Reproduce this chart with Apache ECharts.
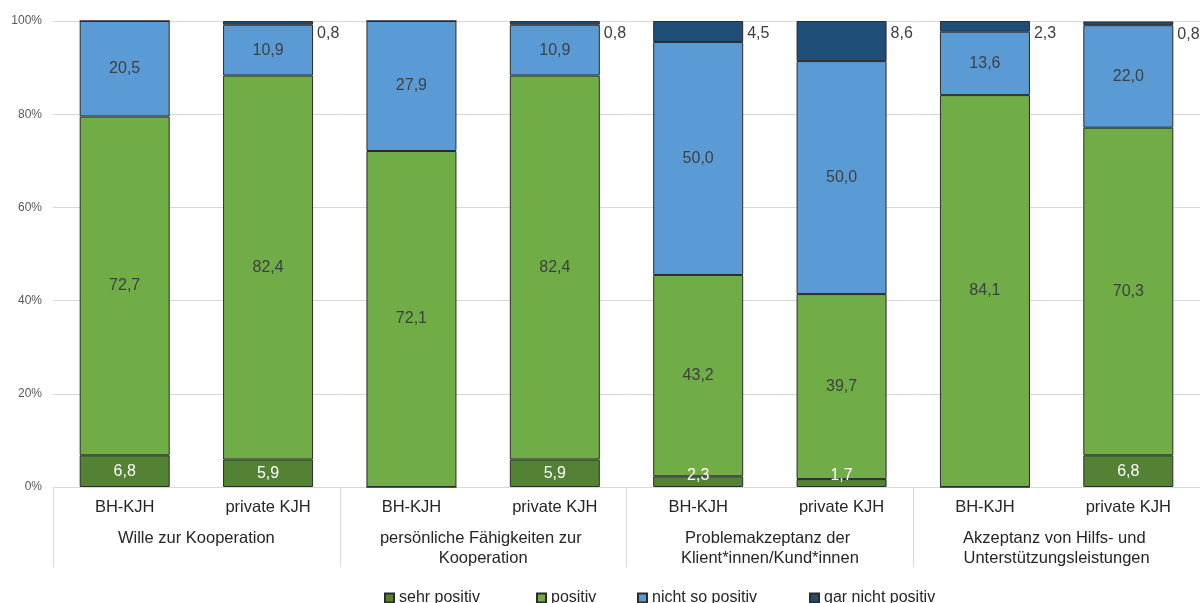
<!DOCTYPE html>
<html>
<head>
<meta charset="utf-8">
<script src="https://cdn.jsdelivr.net/npm/echarts@6/dist/echarts.min.js"></script>
<style>
html,body{margin:0;padding:0;background:#fff;}
#chart{width:1200px;height:603px;}
</style>
</head>
<body>
<div id="chart"></div>
<script>
const barLabels = ["BH-KJH","private KJH","BH-KJH","private KJH","BH-KJH","private KJH","BH-KJH","private KJH"];
const groupLabels = ["Wille zur Kooperation","persönliche Fähigkeiten zur Kooperation","Problemakzeptanz der Klient*innen/Kund*innen","Akzeptanz von Hilfs- und Unterstützungsleistungen"];
const seriesNames = ["sehr positiv","positiv","nicht so positiv","gar nicht positiv"];
const yTicks = [0,20,40,60,80,100];

const sehrPositiv    = [6.8, 5.9, 0,    5.9, 2.3, 1.7, 0,    6.8];
const positiv        = [72.7,82.4,72.1, 82.4,43.2,39.7,84.1, 70.3];
const nichtSoPositiv = [20.5,10.9,27.9, 10.9,50.0,50.0,13.6, 22.0];
const garNichtPositiv= [0,   0.8, 0,    0.8, 4.5, 8.6, 2.3,  0.8];

const FONT = '"Liberation Sans", Arial, sans-serif';
const fmt = p => (p.value ? p.value.toFixed(1).replace('.', ',') : '');
const border = {borderColor:'#2b2b2b', borderWidth:1};
const colors = ['#548235','#70ad47','#5b9bd5','#1f4e79'];
const PLOT_BOTTOM = 487;

function mk(i, data, label, extra){
  return Object.assign({
    name: seriesNames[i], type:'bar', stack:'total', data, barWidth:90,
    itemStyle: Object.assign({color:colors[i]}, border),
    label: Object.assign({show:true, formatter:fmt, fontFamily:FONT, fontSize:16}, label),
    emphasis:{disabled:true}
  }, extra || {});
}

const legendLefts = [379, 531, 632, 804];
const legends = seriesNames.map((n, i) => ({
  left: legendLefts[i], top: 585, itemWidth: 9, itemHeight: 9, icon: 'rect',
  textStyle: {fontFamily: FONT, fontSize: 16, color: '#262626'},
  data: [n]
}));

const chart = echarts.init(document.getElementById('chart'), null, {renderer:'canvas'});
chart.setOption({
  animation:false,
  textStyle:{fontFamily:FONT},
  grid:{left:53, right:-1, top:21, bottom:116, containLabel:false},
  legend: legends,
  xAxis:[
    {
      type:'category', data:barLabels, position:'bottom',
      axisLine:{lineStyle:{color:'#d9d9d9'}},
      axisTick:{show:false},
      axisLabel:{interval:0, margin:12, fontSize:16.5, color:'#262626', fontFamily:FONT}
    },
    {
      type:'category', data:groupLabels, position:'bottom', gridIndex:0,
      axisLine:{show:false},
      axisTick:{show:true, length:80, interval:0, lineStyle:{color:'#d9d9d9'}},
      axisLabel:{interval:0, margin:41, fontSize:16.5, color:'#262626', fontFamily:FONT,
        width:235, overflow:'break', lineHeight:20, align:'center'}
    }
  ],
  yAxis:{
    type:'value', min:0, max:100, interval:20,
    axisLabel:{formatter:v => yTicks.includes(v) ? v + '%' : '', fontSize:12, color:'#595959', margin:11, fontFamily:FONT},
    axisLine:{show:false}, axisTick:{show:false},
    splitLine:{lineStyle:{color:'#d9d9d9'}}
  },
  series:[
    mk(0, sehrPositiv, {position:'inside', color:'#ffffff'}, {
      labelLayout: function(p){
        const r = p.labelRect;
        const over = r.y + r.height - (PLOT_BOTTOM - 3);
        return over > 0 ? {dy: -over} : {};
      }
    }),
    mk(1, positiv, {position:'inside', color:'#404040'}),
    mk(2, nichtSoPositiv, {position:'inside', color:'#404040'}),
    mk(3, garNichtPositiv, {position:['100%',0], offset:[4,5], align:'left', verticalAlign:'top', color:'#404040'})
  ]
});
</script>
</body>
</html>
